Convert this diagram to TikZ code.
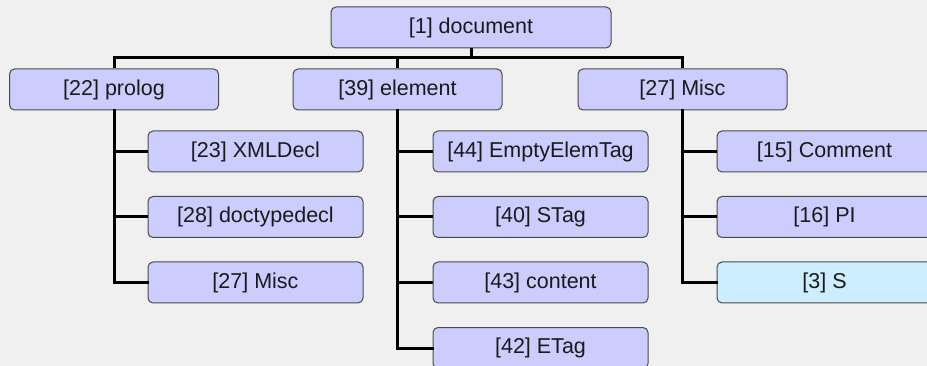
\documentclass[tikz,border=0pt]{standalone}
\usepackage{fontspec}
\setmainfont{Liberation Sans}
\definecolor{bg}{HTML}{F0F0F0}
\definecolor{boxfill}{HTML}{CCCCFF}
\definecolor{sfill}{HTML}{CCEEFF}
\definecolor{boxline}{HTML}{4A4A4A}
\definecolor{txt}{HTML}{1A1A1A}
\begin{document}
\begin{tikzpicture}[x=1pt,y=-1pt,
  box/.style={draw=boxline,line width=1pt,fill=boxfill,rounded corners=5pt,
    minimum height=41pt,inner sep=0pt,text=txt,
    font=\fontsize{21.5}{24}\selectfont},
  topbox/.style={box,minimum width=280pt},
  midbox/.style={box,minimum width=209pt},
  leafbox/.style={box,minimum width=215pt},
  sbox/.style={leafbox,fill=sfill},
  conn/.style={line width=3pt,black}]
\useasboundingbox (0,0) rectangle (927,366);
\fill[bg] (0,0) rectangle (927,366);
% nodes
\node[topbox] (doc) at (471,27.5) {[1] document};
\node[midbox] (prolog) at (114,89.5) {[22] prolog};
\node[midbox] (element) at (397.5,89.5) {[39] element};
\node[midbox] (misc) at (682.5,89.5) {[27] Misc};
\node[leafbox] (xmldecl) at (255.5,151.5) {[23] XMLDecl};
\node[leafbox] (doctype) at (255.5,217) {[28] doctypedecl};
\node[leafbox] (pmisc) at (255.5,282.5) {[27] Misc};
\node[leafbox] (empty) at (540.5,151.5) {[44] EmptyElemTag};
\node[leafbox] (stag) at (540.5,217) {[40] STag};
\node[leafbox] (content) at (540.5,282.5) {[43] content};
\node[leafbox] (etag) at (540.5,348) {[42] ETag};
\node[leafbox] (comment) at (824.5,151.5) {[15] Comment};
\node[leafbox] (pi) at (824.5,217) {[16] PI};
\node[sbox] (s) at (824.5,282.5) {[3] S};
% connectors
\coordinate (bar) at (471,58);
\draw[conn] (doc.south) -- (bar);
\draw[conn] (prolog.north) |- (bar) -| (misc.north);
\draw[conn] (element.north) -- (element.north |- bar);
\draw[conn,line cap=rect] (prolog.south) |- (pmisc.west);
\draw[conn] (prolog.south |- xmldecl) -- (xmldecl.west);
\draw[conn] (prolog.south |- doctype) -- (doctype.west);
\draw[conn,line cap=rect] (element.south) |- (etag.west);
\draw[conn] (element.south |- empty) -- (empty.west);
\draw[conn] (element.south |- stag) -- (stag.west);
\draw[conn] (element.south |- content) -- (content.west);
\draw[conn,line cap=rect] (misc.south) |- (s.west);
\draw[conn] (misc.south |- comment) -- (comment.west);
\draw[conn] (misc.south |- pi) -- (pi.west);
\end{tikzpicture}
\end{document}
